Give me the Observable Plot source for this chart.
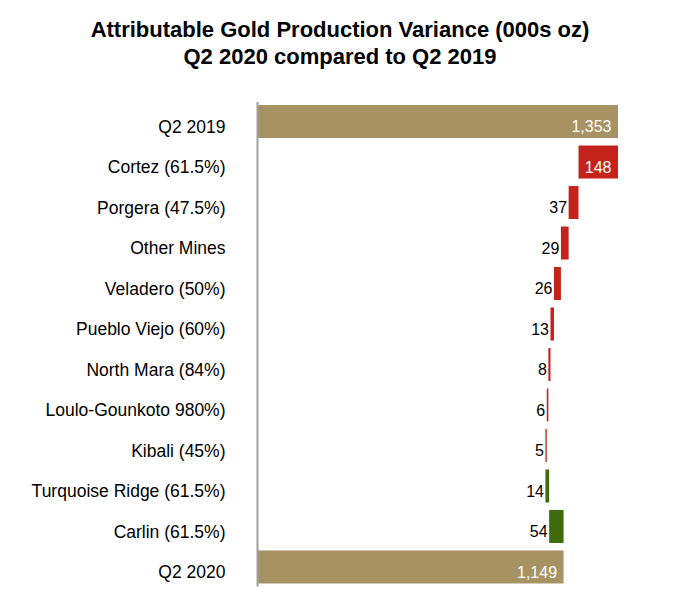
<!DOCTYPE html>
<html>
<head>
<meta charset="utf-8">
<script src="https://cdn.jsdelivr.net/npm/d3@7"></script>
<script src="https://cdn.jsdelivr.net/npm/@observablehq/plot@0.6"></script>
<style>
  body { margin: 0; background: #fff; font-family: "Liberation Sans", Arial, sans-serif; }
  #title { height: 80px; box-sizing: border-box; padding-top: 16px; text-align: center; font-weight: bold; font-size: 22px; line-height: 27px; color: #000; width: 680px; }
  #chart svg { display: block; }
</style>
</head>
<body>
<div id="title">Attributable Gold Production Variance (000s oz)<br>Q2 2020 compared to Q2 2019</div>
<div id="chart"></div>
<script>
const categories = ["Q2 2019", "Cortez (61.5%)", "Porgera (47.5%)", "Other Mines", "Veladero (50%)", "Pueblo Viejo (60%)", "North Mara (84%)", "Loulo-Gounkoto 980%)", "Kibali (45%)", "Turquoise Ridge (61.5%)", "Carlin (61.5%)", "Q2 2020"];
const values = [1353, -148, -37, -29, -26, -13, -8, -6, -5, 14, 54, 1149];
const kinds = ["total", "change", "change", "change", "change", "change", "change", "change", "change", "change", "change", "total"];
const labels = ["1,353", "148", "37", "29", "26", "13", "8", "6", "5", "14", "54", "1,149"];

let running = 0;
const rows = categories.map((c, i) => {
  let x1, x2, kind;
  if (kinds[i] === "total") { x1 = 0; x2 = values[i]; running = values[i]; kind = "total"; }
  else { const s = running; running += values[i]; x1 = Math.min(s, running); x2 = Math.max(s, running); kind = values[i] < 0 ? "down" : "up"; }
  return { cat: c, x1, x2, kind, label: labels[i], inside: (x2 - x1) > 100 };
});

const colors = { total: "#A69262", down: "#C4231B", up: "#3F6B0D" };

const chart = Plot.plot({
  width: 680,
  height: 528,
  marginTop: 22,
  marginBottom: 21.5,
  marginLeft: 257,
  marginRight: 62,
  style: { fontFamily: "'Liberation Sans', Arial, sans-serif", background: "#fff" },
  x: { domain: [0, 1353], axis: null },
  y: { domain: categories, paddingInner: 0.185, paddingOuter: 0.075, round: false, label: null },
  marks: [
    Plot.barX(rows, { y: "cat", x1: "x1", x2: "x2", fill: d => colors[d.kind] }),
    Plot.ruleX([0], { stroke: "#A0A0A0", strokeWidth: 2 }),
    Plot.axisY({ tickSize: 0, tickPadding: 32, fontSize: 17.5, fill: "#000", dy: 5, label: null }),
    Plot.text(rows.filter(d => d.inside), { y: "cat", x: "x2", text: "label", textAnchor: "end", dx: -7, dy: 5, fill: "#fff", fontSize: 16 }),
    Plot.text(rows.filter(d => !d.inside), { y: "cat", x: "x1", text: "label", textAnchor: "end", dx: -2, dy: 5, fill: "#000", fontSize: 16 })
  ]
});
document.getElementById("chart").appendChild(chart);
</script>
</body>
</html>
